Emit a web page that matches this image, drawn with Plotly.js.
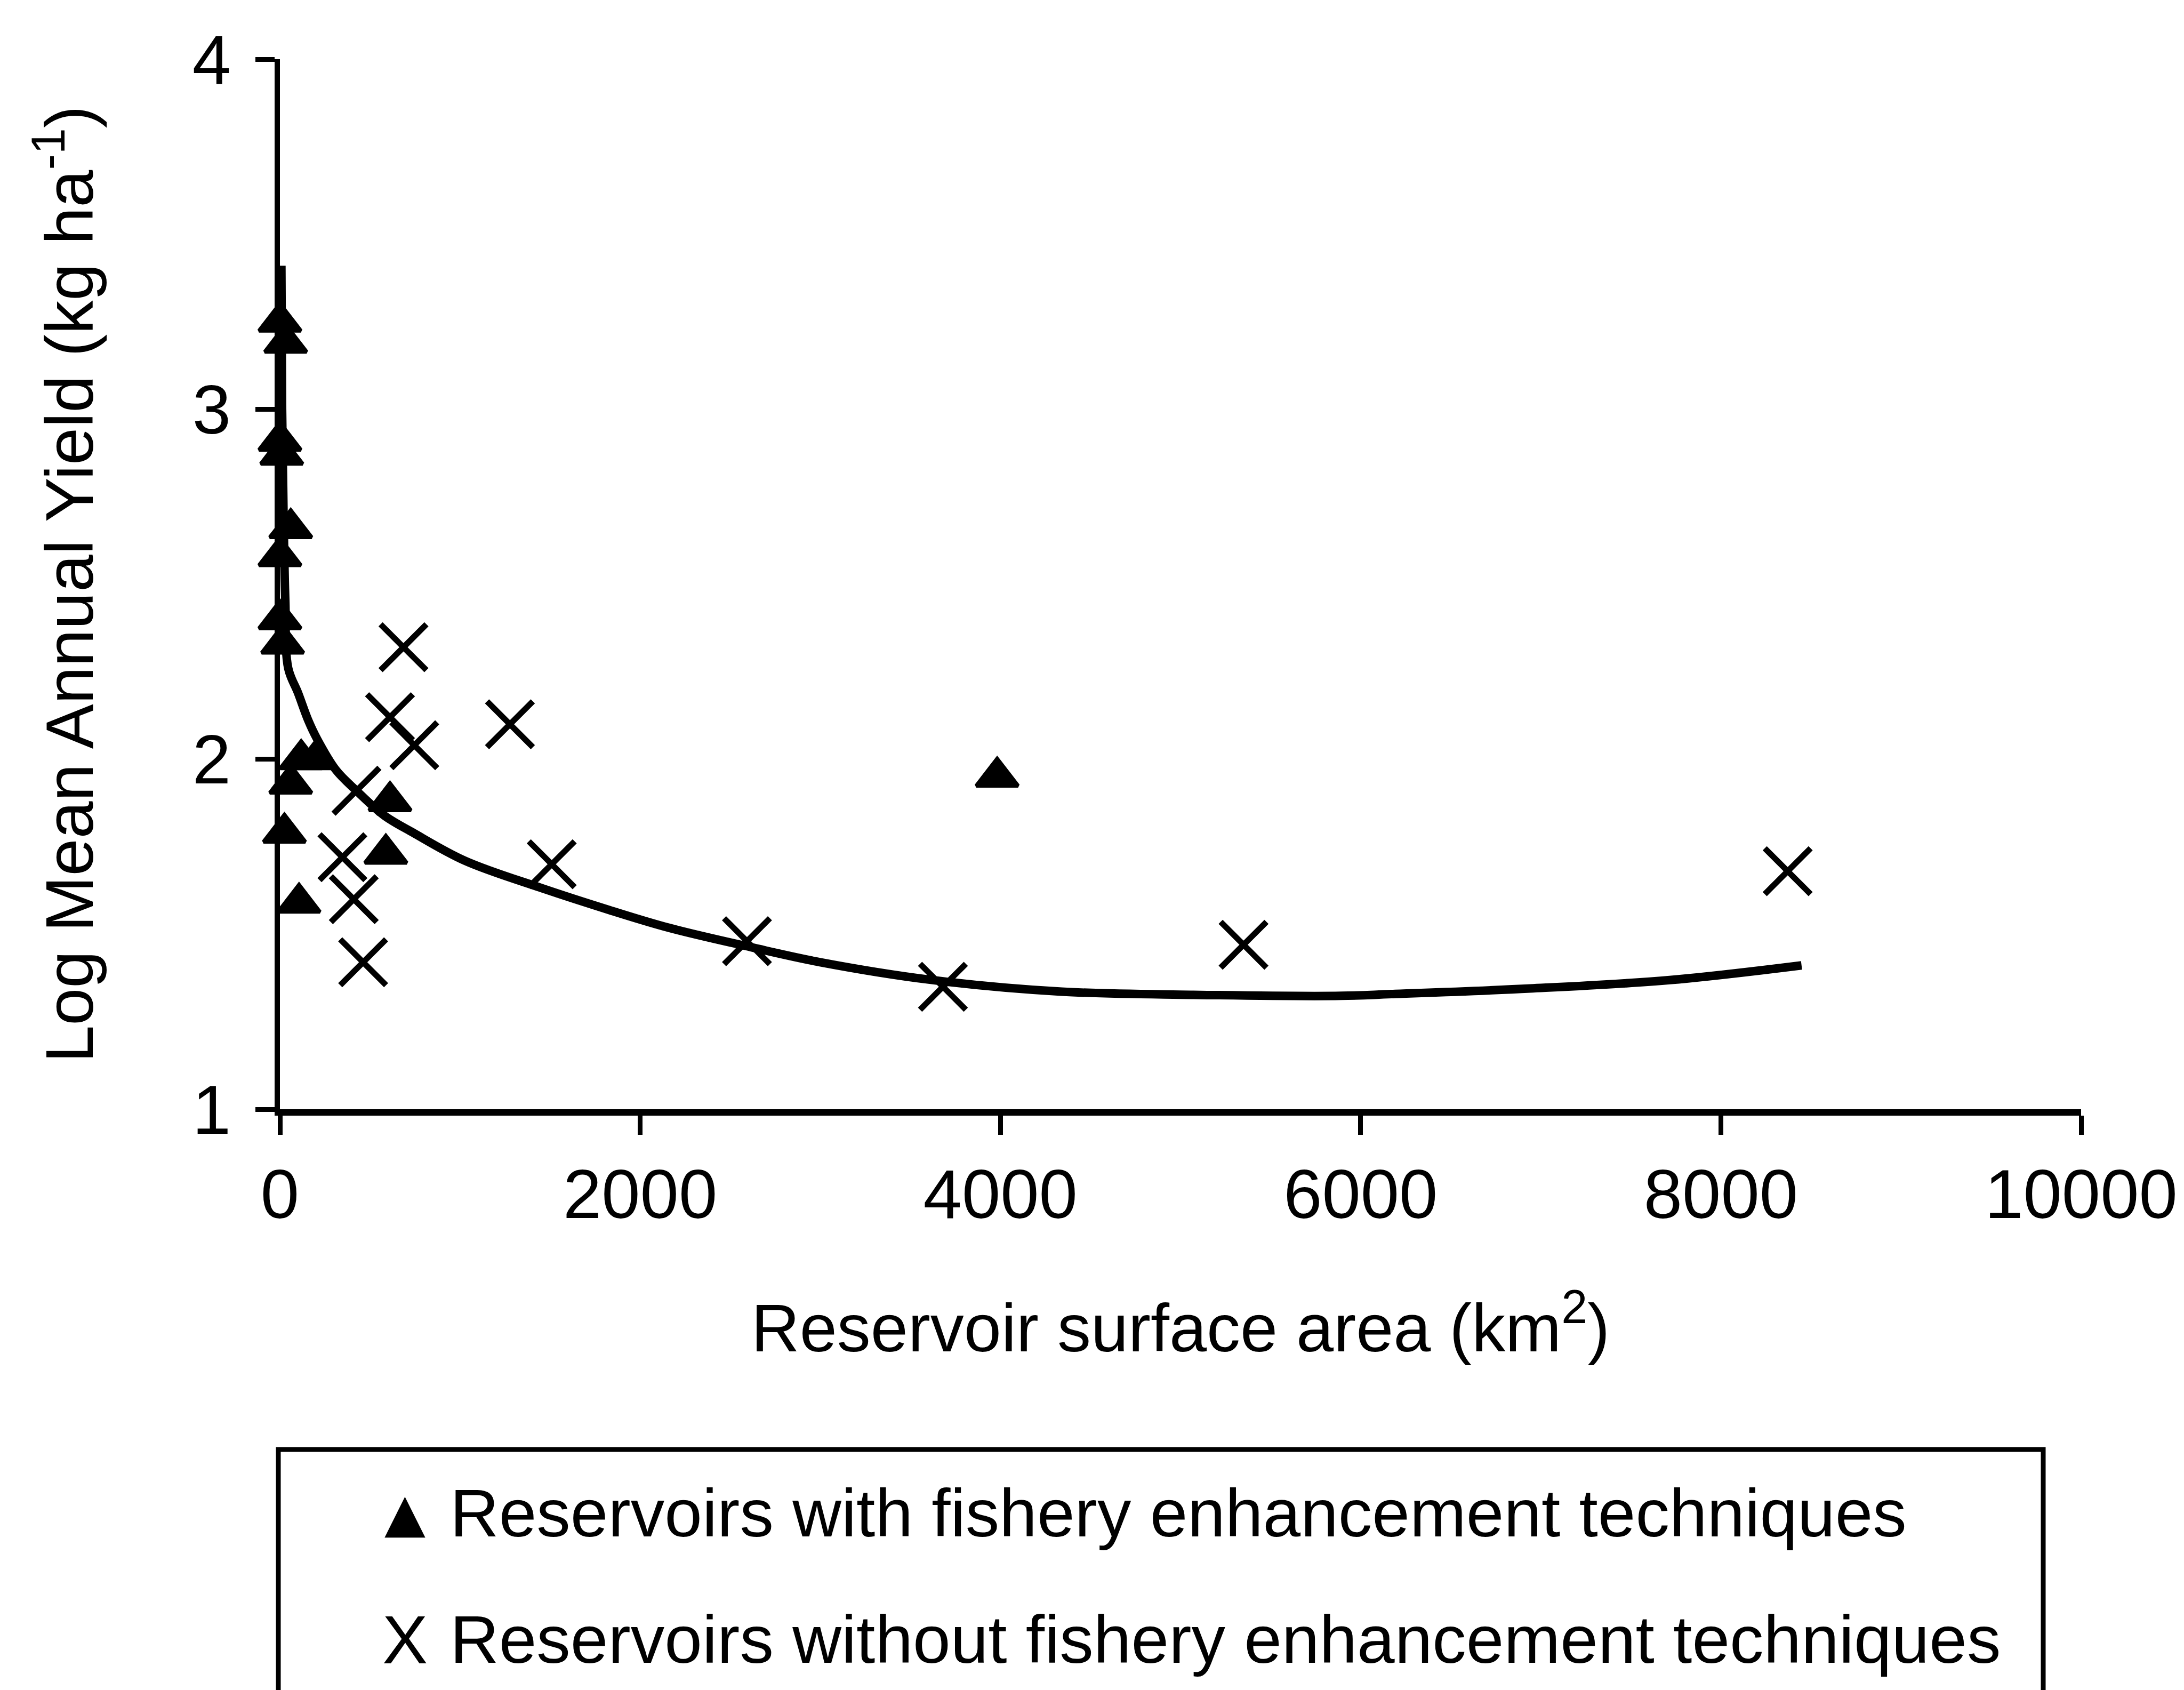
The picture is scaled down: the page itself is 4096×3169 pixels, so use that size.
<!DOCTYPE html>
<html><head><meta charset="utf-8">
<script src="https://cdn.plot.ly/plotly-3.0.1.min.js"></script>
<style>html,body{margin:0;padding:0;background:#fff;}#chart{width:4096px;height:3169px;}</style>
</head><body><div id="chart"></div>
<script>
// Reservoirs with fishery enhancement techniques (triangles)
const withX = [0, 32, 0, 10, 60, 0, 0, 15, 118, 200, 60, 25, 106, 611, 588, 3982];
const withY = [3.25, 3.19, 2.91, 2.87, 2.66, 2.58, 2.40, 2.33, 2.00, 2.00, 1.93, 1.79, 1.59, 1.88, 1.73, 1.95];
// Reservoirs without fishery enhancement techniques (crosses)
const withoutX = [686, 611, 746, 1277, 425, 347, 410, 462, 1509, 2593, 3681, 5350, 8371];
const withoutY = [2.32, 2.12, 2.04, 2.10, 1.91, 1.72, 1.60, 1.42, 1.70, 1.48, 1.35, 1.47, 1.68];
// Fitted curve
const fitX = [8, 12, 20, 30, 46, 100, 158, 204, 310, 425, 577, 740, 1027, 1446, 1830, 2163, 2616, 3000, 3609, 4340, 5072, 5892, 6170, 6942, 7716, 8448];
const fitY = [3.41, 3.00, 2.70, 2.45, 2.26, 2.19, 2.11, 2.06, 1.97, 1.91, 1.84, 1.79, 1.71, 1.633, 1.569, 1.518, 1.463, 1.42, 1.37, 1.336, 1.327, 1.324, 1.329, 1.345, 1.369, 1.411];
const xTicks = [0, 2000, 4000, 6000, 8000, 10000];
const yTicks = [1, 2, 3, 4];
const legendSymbols = ["\u25B2", "X"];
const legendLabels = ["Reservoirs with fishery enhancement techniques", "Reservoirs without fishery enhancement techniques"];

const W = 4096, H = 3169, L = 525, R = 193, T = 111, B = 1089;
const PW = W - L - R, PH = H - T - B;
const px = v => (v - L) / PW;
const py = v => (H - B - v) / PH;
const FONT = "Liberation Sans, Arial, sans-serif";

const traces = [
  {x: fitX, y: fitY, mode: "lines", line: {color: "#000", width: 16, shape: "spline", smoothing: 1}, showlegend: false, cliponaxis: false, hoverinfo: "skip"},
  {x: withX, y: withY, mode: "markers", name: legendLabels[0], cliponaxis: false,
   marker: {symbol: "triangle-up", size: 68, color: "#000", line: {color: "#000", width: 7}}},
  {x: withoutX, y: withoutY, mode: "markers", name: legendLabels[1], cliponaxis: false,
   marker: {symbol: "x-thin", size: 86, color: "#000", line: {color: "#000", width: 11}}}
];

const annotations = [];
const rowY = [2837, 3074];
for (let i = 0; i < 2; i++) {
  annotations.push({xref: "paper", yref: "paper", x: px(759), y: py(rowY[i]), xanchor: "center", yanchor: "middle",
    text: legendSymbols[i], showarrow: false,
    font: {family: i === 0 ? "DejaVu Sans" : FONT, size: i === 0 ? 100 : 128, color: "#000"}});
  annotations.push({xref: "paper", yref: "paper", x: px(842), y: py(rowY[i]), xanchor: "left", yanchor: "middle",
    text: legendLabels[i], showarrow: false, font: {family: FONT, size: 127, color: "#000"}});
}

const layout = {
  width: W, height: H,
  margin: {l: L, r: R, t: T, b: B, pad: 0},
  paper_bgcolor: "#fff", plot_bgcolor: "#fff",
  showlegend: false,
  font: {family: FONT, color: "#000", size: 125},
  xaxis: {
    range: [0, 10000], tickvals: xTicks, ticktext: xTicks.map(String),
    showgrid: false, zeroline: false, showline: true, linecolor: "#000", linewidth: 12,
    ticks: "outside", ticklen: 36, tickwidth: 9, tickcolor: "#000",
    tickfont: {family: FONT, size: 130, color: "#000"},
    title: {text: "Reservoir surface area (km<sup>2</sup>)", font: {family: FONT, size: 126, color: "#000"}, standoff: 140}
  },
  yaxis: {
    range: [1, 4], tickvals: yTicks, ticktext: yTicks.map(String),
    showgrid: false, zeroline: false, showline: true, linecolor: "#000", linewidth: 10,
    ticks: "outside", ticklen: 36, tickwidth: 9, tickcolor: "#000", ticklabelstandoff: 20,
    tickfont: {family: FONT, size: 130, color: "#000"},
    title: {text: "Log Mean Annual Yield (kg ha<sup>-1</sup>)", font: {family: FONT, size: 126, color: "#000"}, standoff: 148}
  },
  shapes: [
    {type: "rect", xref: "paper", yref: "paper", x0: px(522), x1: px(3832), y0: py(3330), y1: py(2718),
     line: {color: "#000", width: 9}, fillcolor: "rgba(0,0,0,0)"}
  ],
  annotations: annotations
};

Plotly.newPlot("chart", traces, layout, {staticPlot: true});
</script>
</body></html>
